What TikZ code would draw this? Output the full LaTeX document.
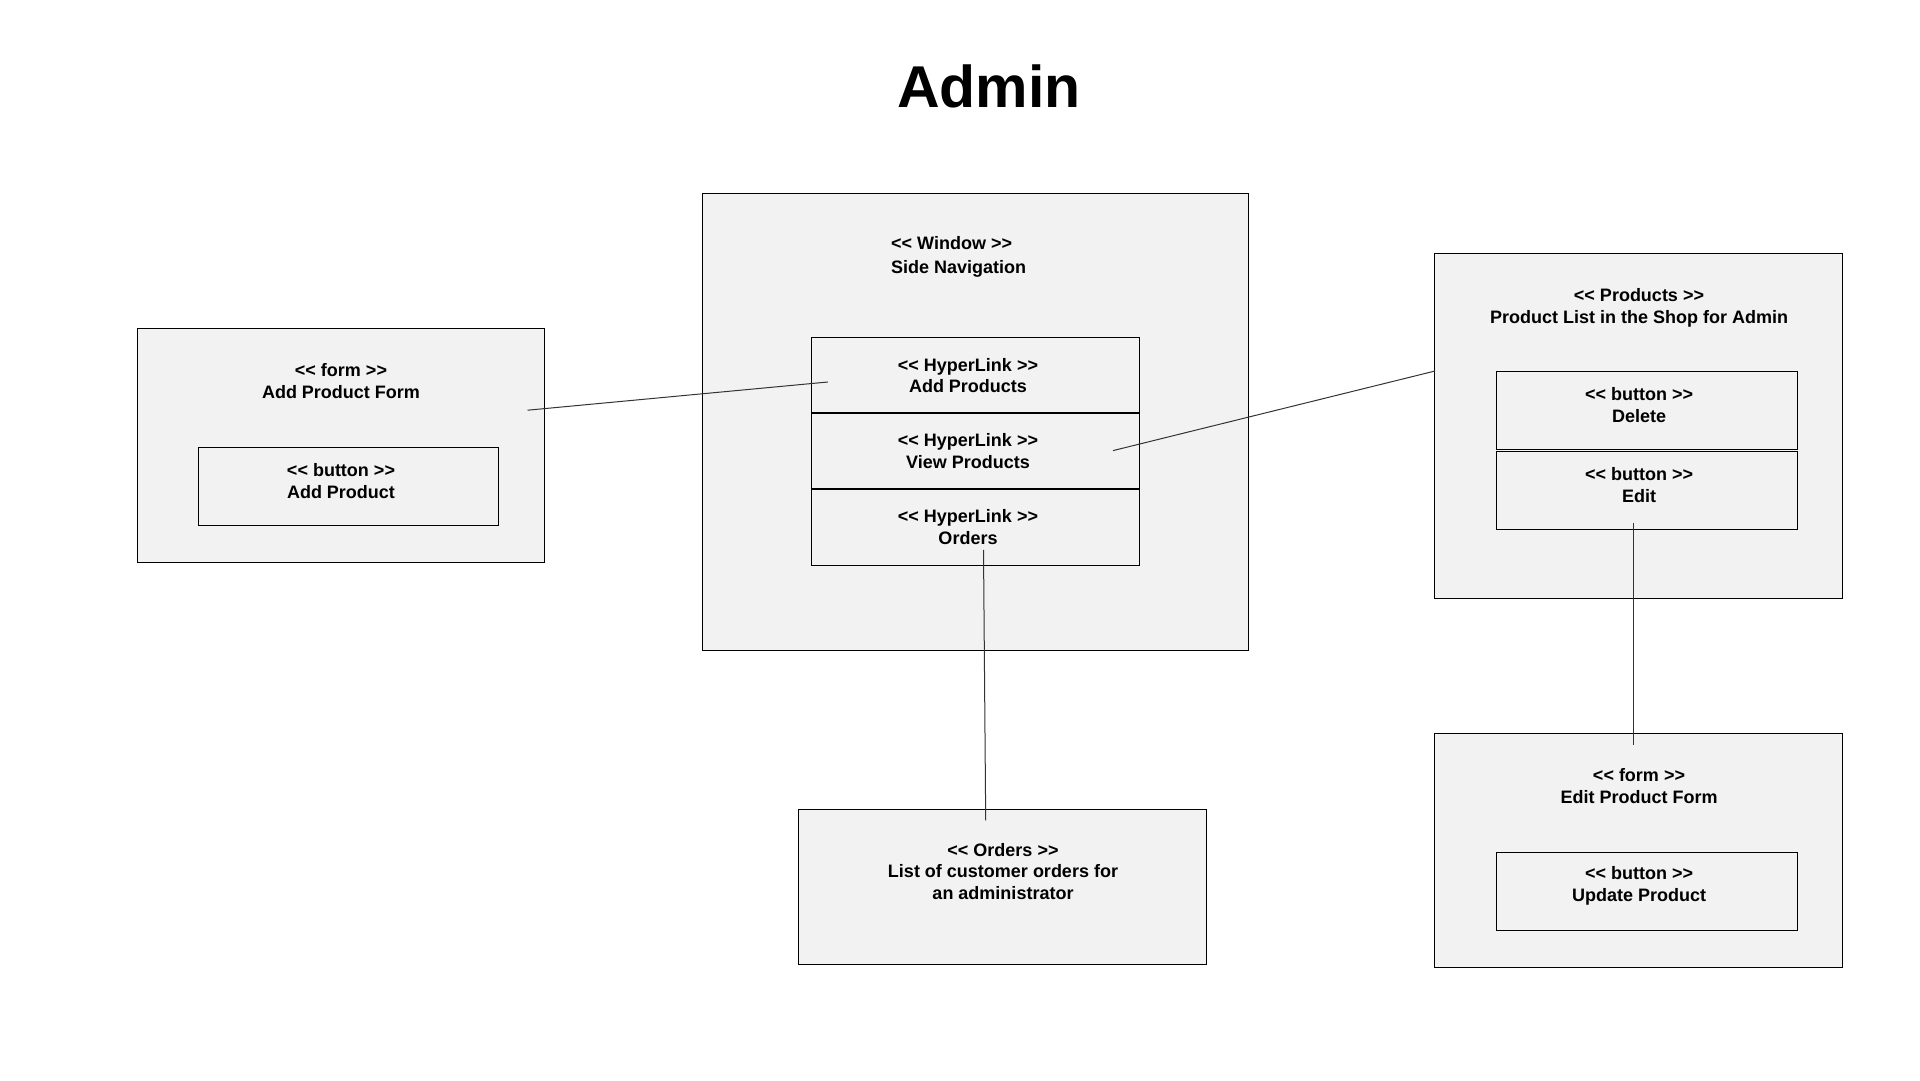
\documentclass[tikz,border=0pt]{standalone}
\usepackage{fontspec}
\newfontfamily\diagfont{Liberation Sans}[Ligatures=NoCommon]
\definecolor{boxgray}{HTML}{F2F2F2}
\definecolor{linegray}{HTML}{333333}
\begin{document}
\begin{tikzpicture}[x=1pt,y=-1pt,
  box/.style={draw=black, fill=boxgray, line width=1pt, rectangle, inner sep=0pt, anchor=north west},
  txt/.style={font=\diagfont\fontsize{18}{21.7}\selectfont\bfseries, align=center, inner sep=0pt},
  conn/.style={draw=linegray, line width=1pt}]
\useasboundingbox (0,0) rectangle (1920,1080);

\node[inner sep=0pt, font=\diagfont\fontsize{59}{62}\selectfont\bfseries] (title) at (989,86) {Admin};

% Add Product Form
\node[box, minimum width=407.5, minimum height=234] (addform) at (136.5,328) {};
\node[box, minimum width=300, minimum height=77.7] (addbtn) at (198.3,447.3) {};
\node[txt] (addformtxt) at (341,381) {<< form >>\\Add Product Form};
\node[txt] (addbtntxt) at (341,481) {<< button >>\\Add Product};

% Side Navigation window
\node[box, minimum width=546, minimum height=457.5] (window) at (702,192.5) {};
\node[txt, align=left, anchor=west, font=\diagfont\fontsize{18}{24.5}\selectfont\bfseries] (windowtxt) at (891,257) {<< Window >>\\Side Navigation};
\node[box, minimum width=328.2, minimum height=75.5] (hl1) at (810.6,336.7) {};
\node[box, minimum width=328.2, minimum height=74.9] (hl2) at (810.6,413.2) {};
\node[box, minimum width=328.2, minimum height=75.4] (hl3) at (810.6,489.1) {};
\node[txt] (hl1txt) at (968,375.5) {<< HyperLink >>\\Add Products};
\node[txt] (hl2txt) at (968,451.4) {<< HyperLink >>\\View Products};
\node[txt] (hl3txt) at (968,527.3) {<< HyperLink >>\\Orders};

% Products
\node[box, minimum width=408, minimum height=345.5] (products) at (1434,252.5) {};
\node[txt] (productstxt) at (1639,307.5) {<< Products >>\\Product List in the Shop for Admin};
\node[box, minimum width=300.5, minimum height=78] (delbtn) at (1496,371.2) {};
\node[box, minimum width=300.5, minimum height=78.4] (editbtn) at (1496,450.8) {};
\node[txt] (deltxt) at (1639,405) {<< button >>\\Delete};
\node[txt] (edittxt) at (1639,485) {<< button >>\\Edit};

% Orders
\node[box, minimum width=408, minimum height=154.6] (orders) at (798.4,809.4) {};
\node[txt] (orderstxt) at (1003,871.5) {<< Orders >>\\List of customer orders for\\an administrator};

% Edit Product Form
\node[box, minimum width=408, minimum height=234] (editform) at (1434,733.4) {};
\node[txt] (editformtxt) at (1639,786) {<< form >>\\Edit Product Form};
\node[box, minimum width=300.5, minimum height=78] (updbtn) at (1496,852.3) {};
\node[txt] (updtxt) at (1639,886) {<< button >>\\Update Product};

% connector end points
\coordinate (c1a) at (527.5,410.2);
\coordinate (c1b) at (827.8,382);
\coordinate (c2a) at (1113,450.6);
\coordinate (c2b) at (1435,371);
\coordinate (c3a) at (983.5,549.8);
\coordinate (c3b) at (985.7,820.4);
\coordinate (c4a) at (1633.8,522.5);
\coordinate (c4b) at (1633.8,744.8);

\draw[conn] (c1a) -- (c1b);
\draw[conn] (c2a) -- (c2b);
\draw[conn] (c3a) -- (c3b);
\draw[conn] (c4a) -- (c4b);
\end{tikzpicture}
\end{document}
